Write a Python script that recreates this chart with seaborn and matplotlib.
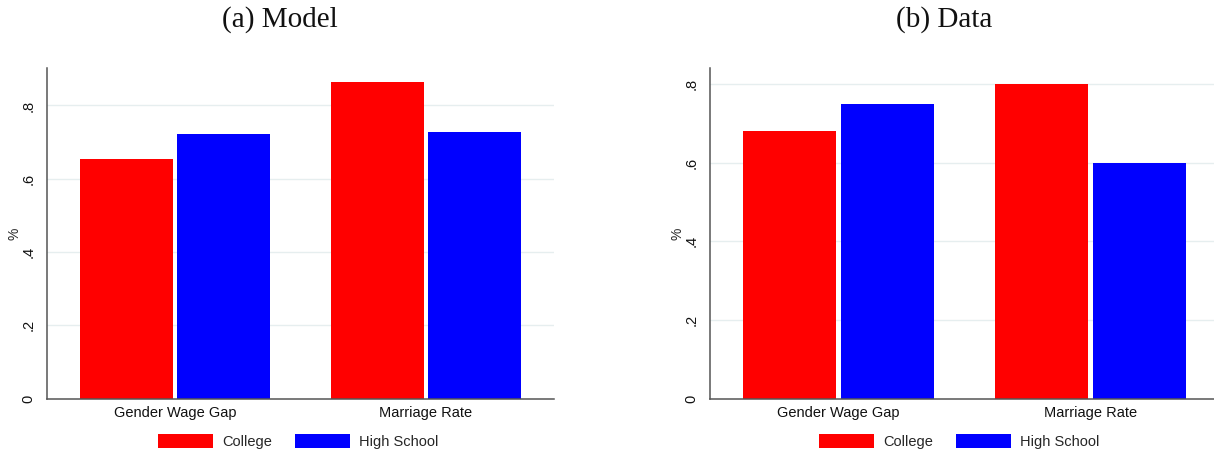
import matplotlib
matplotlib.use("Agg")
import matplotlib.pyplot as plt
import seaborn as sns
import pandas as pd

# Values shown in the two panels
categories = ["Gender Wage Gap", "Marriage Rate"]
groups = ["College", "High School"]
model_college = [0.653, 0.863]
model_high_school = [0.721, 0.729]
data_college = [0.68, 0.80]
data_high_school = [0.75, 0.60]
y_ticks = [0, 0.2, 0.4, 0.6, 0.8]
y_tick_labels = ["0", ".2", ".4", ".6", ".8"]
panel_titles = ["(a) Model", "(b) Data"]


def long_table(college, high_school):
    rows = []
    for cat, c, h in zip(categories, college, high_school):
        rows.append({"category": cat, "group": groups[0], "value": c})
        rows.append({"category": cat, "group": groups[1], "value": h})
    return pd.DataFrame(rows)


sns.set_style("white")
plt.rcParams["font.family"] = ["Liberation Sans", "DejaVu Sans"]

palette = {"College": "#ff0000", "High School": "#0000ff"}
grid_color = "#e6eeef"
axis_color = "#555555"

W, H = 1214, 455
fig = plt.figure(figsize=(W / 100, H / 100), dpi=100)


def px_axes(x0, x1, y_top, y_bot):
    return fig.add_axes([x0 / W, (H - y_bot) / H, (x1 - x0) / W, (y_bot - y_top) / H])


panels = [
    (px_axes(47, 554, 68.3, 398.7), long_table(model_college, model_high_school), 0.9015, 280, 0.495),
    (px_axes(710, 1219, 68.3, 398.7), long_table(data_college, data_high_school), 0.8397, 944, 0.489),
]

for i, (ax, df, ymax, title_x, legend_x) in enumerate(panels):
    for y in y_ticks[1:]:
        ax.axhline(y, color=grid_color, lw=1.0, zorder=0)
    sns.barplot(data=df, x="category", y="value", hue="group", order=categories,
                hue_order=groups, palette=palette, width=0.772, gap=0.0415,
                saturation=1, edgecolor="none", linewidth=0, ax=ax, zorder=2)
    ax.set_xlim(-0.51, 1.51)
    ax.set_ylim(0, ymax)
    ax.set_yticks(y_ticks)
    ax.set_yticklabels(y_tick_labels, rotation=90, va="center")
    ax.set_xlabel("")
    ax.set_ylabel("%", fontsize=10, labelpad=0)
    for side in ("top", "right"):
        ax.spines[side].set_visible(False)
    for side in ("left", "bottom"):
        ax.spines[side].set_color(axis_color)
        ax.spines[side].set_linewidth(1.1)
    ax.tick_params(axis="y", length=4.5, width=1.0, color=axis_color, pad=4,
                   labelsize=10.5, labelcolor="#111111")
    ax.tick_params(axis="x", length=0, pad=5, labelsize=10.5, labelcolor="#111111")
    ax.grid(False)
    handles, labels = ax.get_legend_handles_labels()
    ax.legend(handles, labels, loc="center", bbox_to_anchor=(legend_x, -0.1295),
              ncol=2, frameon=False, fontsize=10.5, handlelength=3.77,
              handleheight=1.1, handletextpad=0.62, columnspacing=1.58,
              borderpad=0, borderaxespad=0)
    fig.text(title_x / W, (H - 20) / H, panel_titles[i], ha="center", va="center",
             fontsize=21, family=["Liberation Serif", "DejaVu Serif"], color="#111111")

fig.savefig("out.png", dpi=100)
